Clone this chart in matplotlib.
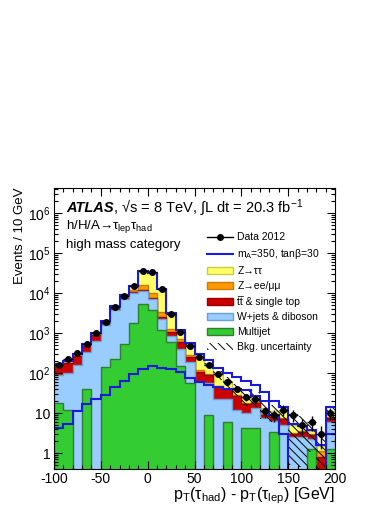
import numpy as np
import matplotlib
matplotlib.use('Agg')
import matplotlib.pyplot as plt
from matplotlib.lines import Line2D
from matplotlib.patches import Patch
from matplotlib.ticker import MultipleLocator, LogLocator, FixedLocator, FuncFormatter, NullFormatter

plt.rcParams['font.family'] = ['Liberation Sans', 'DejaVu Sans']
plt.rcParams['mathtext.fontset'] = 'custom'
plt.rcParams['mathtext.rm'] = 'Liberation Sans'
plt.rcParams['mathtext.it'] = 'Liberation Sans:italic'
plt.rcParams['mathtext.bf'] = 'Liberation Sans:bold'
plt.rcParams['axes.unicode_minus'] = False
plt.rcParams['hatch.linewidth'] = 0.7

# pT(tau_had) - pT(tau_lep), 10 GeV bins from -100 to 200
edges = np.arange(-100, 201, 10)

data = [155, 219, 310, 525, 985, 1850, 4550, 8500, 15000, 35500,
        33000, 12400, 3030, 1060, 473, 250, 158, 93, 61, 41,
        25, 23, 11, 9, 12, 9, 5, 6, 3, 10]

multijet = [18, 12, 0, 40, 0, 140, 224, 520, 1780, 5200,
            3800, 1180, 590, 150, 55, 0, 8.9, 0, 6, 0,
            4.2, 4.2, 0, 3.4, 0, 0, 0, 1.3, 0, 1.3]
wjets = [71, 86, 158, 300, 630, 1450, 3540, 6580, 8020, 6000,
         3200, 1120, 250, 250, 130, 61, 46, 23, 16, 12,
         5.8, 8.8, 7.5, 3.1, 5.0, 2.5, 2.5, 0.9, 0, 4.7]
ttbar = [69, 77, 107, 140, 260, 310, 390, 400, 500, 500,
         300, 200, 220, 200, 61, 46, 34, 22, 17, 15,
         7, 5, 1.5, 1.5, 2, 0.5, 0.8, 0.6, 0.8, 1.5]
zll = [1, 2, 3, 10, 20, 50, 250, 500, 1400, 3800,
       2700, 850, 210, 90, 36, 11, 6, 3, 2, 1,
       1, 1, 0.5, 0.5, 0.5, 0.2, 0.2, 0.2, 0.3, 0.5]
ztt = [3, 18, 22, 30, 50, 50, 150, 600, 3000, 19300,
       22000, 9350, 1760, 410, 208, 122, 63, 42, 21, 12,
       7, 5, 3.5, 2.5, 3.5, 1.8, 1.0, 0.5, 0.4, 3]

# relative background uncertainty
bkg_unc = [0.05, 0.05, 0.05, 0.05, 0.04, 0.04, 0.04, 0.04, 0.04, 0.04,
           0.04, 0.04, 0.05, 0.06, 0.08, 0.12, 0.15, 0.25, 0.3, 0.35,
           0.4, 0.4, 0.45, 0.45, 0.45, 0.9, 0.9, 0.7, 1.0, 0.35]

# signal mA=350, tanb=30
signal = [4.3, 5.2, 11, 17, 22, 28, 44, 64, 95, 128,
          150, 135, 123, 104, 76, 58, 50, 45, 40, 40,
          38, 27, 20, 9, 3, 0.3, 0.2, 0.2, 0.1, 3]

yticks = [1, 10, 100, 1e3, 1e4, 1e5, 1e6]

names = ['Multijet', 'W+jets & diboson', 't\u0305t & single top',
         'Z\u2192ee/\u03bc\u03bc', 'Z\u2192\u03c4\u03c4']
fills = ['#33cc33', '#99ccff', '#cc0000', '#ff9900', '#ffff66']
lines = ['#2f7f2f', '#6f9fcf', '#990000', '#cc7a00', '#cccc44']
sig_col = '#1a1ad9'

fig = plt.figure(figsize=(3.9, 5.05), dpi=100)
ax = fig.add_axes([54 / 390, 36 / 505, 281 / 390, 281 / 505])

comps = np.array([multijet, wjets, ttbar, zll, ztt], dtype=float)
cum = np.cumsum(comps, axis=0)
for k in range(4, -1, -1):
    ax.stairs(cum[k], edges, baseline=1e-3, fill=True, facecolor=fills[k],
              edgecolor='none')
    ax.stairs(cum[k], edges, baseline=1e-3, color=lines[k], lw=1.0)

total = cum[4]
unc = np.array(bkg_unc)
lo = np.maximum(total * (1 - unc), 1e-3)
hi = total * (1 + unc)
ax.stairs(hi, edges, baseline=lo, fill=True, facecolor='none',
          edgecolor='black', hatch='\\\\\\\\', lw=0)

sig = np.array(signal)
ax.stairs(sig, edges, baseline=None, color=sig_col, lw=1.5)
ax.stairs(total + sig, edges, baseline=None, color=sig_col, lw=1.5)

centers = 0.5 * (edges[:-1] + edges[1:])
d = np.array(data, dtype=float)
ax.errorbar(centers, d, xerr=5, yerr=np.sqrt(d), fmt='o', color='black',
            ms=4, lw=1.0, capsize=0, zorder=5)

ax.set_xlim(-100, 200)
ax.set_yscale('log')
ax.set_ylim(0.4, 4.2e6)
ax.xaxis.set_major_locator(MultipleLocator(50))
ax.xaxis.set_minor_locator(MultipleLocator(10))
ax.yaxis.set_major_locator(FixedLocator(yticks))
ax.yaxis.set_minor_locator(LogLocator(base=10, subs=np.arange(2, 10), numticks=20))
ax.yaxis.set_minor_formatter(NullFormatter())


def yfmt(v, pos):
    n = int(round(np.log10(v)))
    if n == 0:
        return '1'
    if n == 1:
        return '10'
    return '$10^{%d}$' % n


ax.yaxis.set_major_formatter(FuncFormatter(yfmt))
ax.tick_params(which='both', direction='in', top=True, right=True, width=0.8)
ax.tick_params(which='major', length=6, labelsize=10)
ax.tick_params(which='minor', length=3)
ax.tick_params(axis='x', pad=2)
ax.tick_params(axis='y', pad=2.5)
for s in ax.spines.values():
    s.set_linewidth(0.8)

ax.set_xlabel('p$_{\\mathrm{T}}$(\u03c4$_{\\mathrm{had}}$) - p$_{\\mathrm{T}}$(\u03c4$_{\\mathrm{lep}}$) [GeV]',
              fontsize=11.5, ha='right')
ax.xaxis.set_label_coords(1.0, -0.06)
ax.set_ylabel('Events / 10 GeV', fontsize=9.5, ha='right')
ax.yaxis.set_label_coords(-0.1, 1.0)

ax.text(0.043, 0.915, 'ATLAS', transform=ax.transAxes, fontsize=10.5,
        fontweight='bold', fontstyle='italic', va='baseline')
ax.text(0.21, 0.915, ', \u221as = 8 TeV, \u222bL dt = 20.3 fb$^{-1}$',
        transform=ax.transAxes, fontsize=10.5, va='baseline')
ax.text(0.043, 0.854, 'h/H/A\u2192\u03c4$_{\\mathrm{lep}}$\u03c4$_{\\mathrm{had}}$',
        transform=ax.transAxes, fontsize=9.5, va='baseline')
ax.text(0.043, 0.785, 'high mass category', transform=ax.transAxes,
        fontsize=9.5, va='baseline')

handles = [Line2D([], [], color='black', marker='o', ms=4, lw=1.0),
           Line2D([], [], color=sig_col, lw=1.5)]
for k in range(4, -1, -1):
    handles.append(Patch(facecolor=fills[k], edgecolor=lines[k], lw=1.0))
handles.append(Patch(facecolor='none', edgecolor='black', hatch='\\\\\\\\', lw=0))
labels = ['Data 2012', 'm$_{\\mathrm{A}}$=350, tan\u03b2=30'] + names[::-1] + ['Bkg. uncertainty']
ax.legend(handles, labels, loc='upper left', bbox_to_anchor=(0.545, 0.842),
          frameon=False, fontsize=7.5, handlelength=2.5, handleheight=0.7,
          handletextpad=0.4, labelspacing=0.48, borderpad=0, borderaxespad=0)

fig.savefig('out.png', dpi=100)
